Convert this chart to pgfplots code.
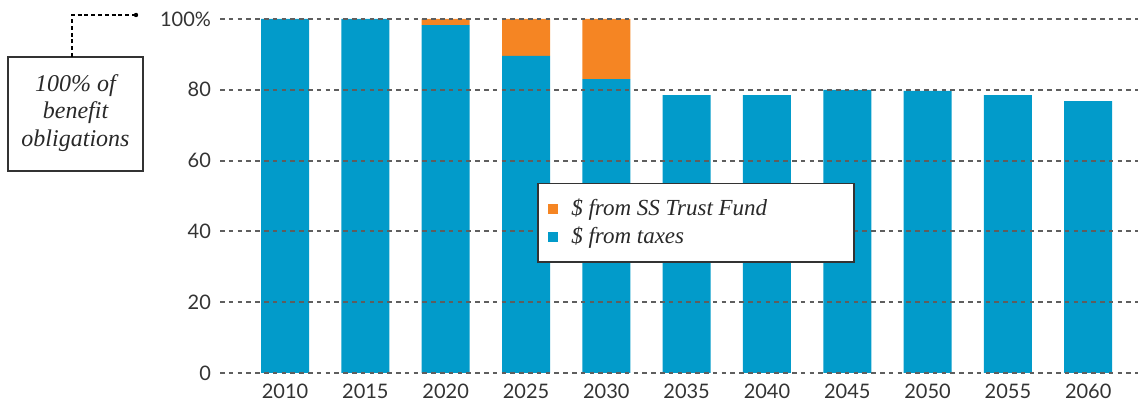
\documentclass[border=0pt]{standalone}
\usepackage{fontspec}
\setsansfont{Lato}
\newfontfamily\serifit{Liberation Serif}
\usepackage{pgfplots}
\pgfplotsset{compat=1.18}
\definecolor{tblue}{HTML}{029BCA}
\definecolor{torange}{HTML}{F58523}
\definecolor{tgray}{HTML}{333333}
\definecolor{ggray}{HTML}{5E5E5E}
\begin{document}
\begin{tikzpicture}[x=1pt,y=1pt]
\useasboundingbox (0,0) rectangle (569,203);
\begin{axis}[
  at={(110pt,16.5pt)}, anchor=south west,
  scale only axis, width=459pt, height=177pt,
  xmin=-0.81, xmax=10.62, ymin=0, ymax=100,
  ybar stacked, bar width=24pt,
  axis line style={draw=none},
  xtick={0,...,10},
  xticklabels={2010,2015,2020,2025,2030,2035,2040,2045,2050,2055,2060},
  ytick={0,20,40,60,80,100},
  yticklabels={0,20,40,60,80,100\%},
  major tick length=0pt,
  ymajorgrids,
  grid style={ggray, line width=0.95pt, dash pattern=on 2.3pt off 2.1pt},
  axis on top,
  tick label style={font=\sffamily\fontsize{10}{12}\selectfont, text=tgray},
  yticklabel style={xshift=-1pt},
  xticklabel style={yshift=-2pt},
  reverse legend,
  legend image code/.code={\fill[#1,draw=none] (0pt,-2.6pt) rectangle (5.2pt,2.6pt);},
  legend style={at={(axis cs:3.138,53.7)}, anchor=north west,
    draw=tgray, line width=0.8pt, fill=white,
    inner xsep=5pt, inner ysep=6.3pt, row sep=1pt,
    font=\serifit\itshape\fontsize{11.5}{13}\selectfont, text=tgray!80!black,
    nodes={inner sep=1.5pt}},
  legend cell align=left,
]
\addplot[fill=tblue, draw=none] coordinates {(0,100) (1,100) (2,98.3) (3,89.6) (4,83.0) (5,78.5) (6,78.5) (7,80.0) (8,79.7) (9,78.5) (10,76.8)};
\addlegendentry{\hspace{5pt}\$ from taxes}
\addplot[fill=torange, draw=none] coordinates {(0,0) (1,0) (2,1.7) (3,10.4) (4,17.0) (5,0) (6,0) (7,0) (8,0) (9,0) (10,0)};
\addlegendentry{\hspace{5pt}\makebox[135pt][l]{\$ from SS Trust Fund}}
\end{axis}
\draw[tgray, line width=0.6pt] (4,117.5) rectangle (71.5,174.5);
\node[align=center, text=tgray!80!black, font=\serifit\itshape\fontsize{12}{13.7}\selectfont] at (37.75,146.5) {100\% of\\benefit\\obligations};
\draw[black, line width=0.55pt, dash pattern=on 2pt off 1.4pt] (36,174.5) -- (36,195.5) -- (67,195.5);
\fill[black] (68,195.5) circle (1.1pt);
\end{tikzpicture}
\end{document}
